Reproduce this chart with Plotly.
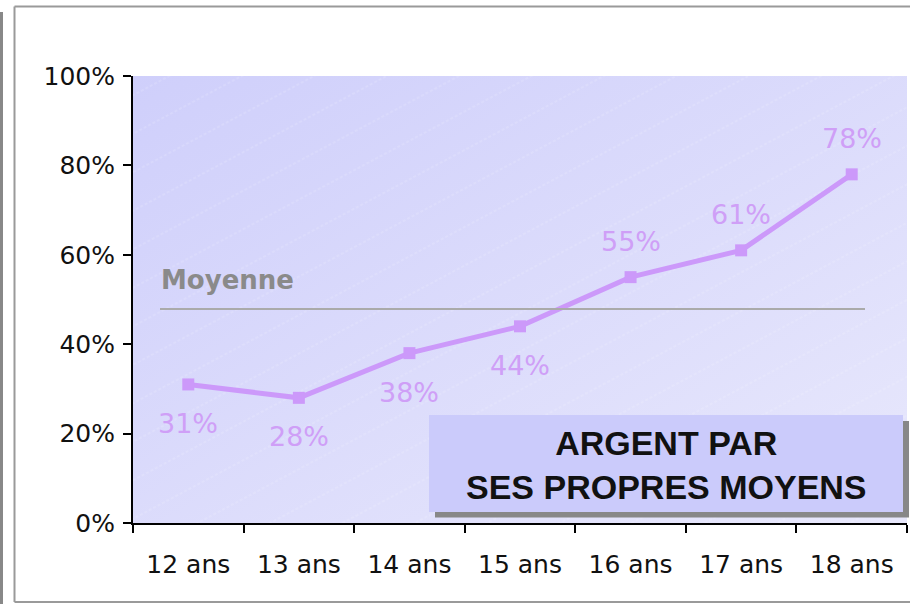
import base64
import plotly.graph_objects as go

# ---- data ----
categories = ["12 ans", "13 ans", "14 ans", "15 ans", "16 ans", "17 ans", "18 ans"]
values = [0.31, 0.28, 0.38, 0.44, 0.55, 0.61, 0.78]
y_ticks = [0, 0.2, 0.4, 0.6, 0.8, 1.0]
title_lines = ["ARGENT PAR", "SES PROPRES MOYENS"]
avg_label = "Moyenne"

mean_value = sum(values) / len(values)

# ---- layout geometry (pixels) ----
FW, FH = 910, 604
L, R, T, B = 133, 3, 76, 81
W = FW - L - R
H = FH - T - B


def px(x):
    return (x - L) / W


def py(y):
    return (T + H - y) / H


FONT = "DejaVu Sans"
TITLE_FONT = "Liberation Sans"
LINE_COLOR = "#cc99fa"
LABEL_COLOR = "#cf9ff7"

# background gradient + faint hatching as an SVG image
svg = f"""<svg xmlns='http://www.w3.org/2000/svg' width='{W}' height='{H}' viewBox='0 0 {W} {H}' preserveAspectRatio='none'>
<defs>
<linearGradient id='g' x1='0' y1='0' x2='1' y2='1'>
<stop offset='0' stop-color='#cfcffb'/>
<stop offset='1' stop-color='#e8e8fc'/>
</linearGradient>
<pattern id='p' width='40' height='34' patternUnits='userSpaceOnUse' patternTransform='rotate(-28)'>
<line x1='0' y1='17' x2='40' y2='17' stroke='white' stroke-opacity='0.25' stroke-width='1' stroke-dasharray='3,2'/>
</pattern>
</defs>
<rect width='{W}' height='{H}' fill='url(#g)'/>
<rect width='{W}' height='{H}' fill='url(#p)'/>
</svg>"""
src = "data:image/svg+xml;base64," + base64.b64encode(svg.encode()).decode()

fig = go.Figure()
fig.add_trace(go.Scatter(
    x=categories, y=values, mode="lines+markers",
    line=dict(color=LINE_COLOR, width=5),
    marker=dict(symbol="square", size=12, color=LINE_COLOR),
    hoverinfo="skip", showlegend=False,
))

annotations = []
for i, (c, v) in enumerate(zip(categories, values)):
    below = i < 4
    annotations.append(dict(
        x=c, y=v, xref="x", yref="y", text=f"{round(v*100)}%",
        showarrow=False, yshift=-39 if below else 36,
        font=dict(family=FONT, size=27, color=LABEL_COLOR),
    ))

# average label
annotations.append(dict(
    x=px(159), y=mean_value, xref="paper", yref="y", text=f"<b>{avg_label}</b>",
    showarrow=False, xanchor="left", yanchor="middle", yshift=29,
    font=dict(family=FONT, size=26, color="#8a8a8a"),
))

# title box text
annotations.append(dict(
    x=px(666), y=py(465), xref="paper", yref="paper",
    text="<b>" + "<br>".join(title_lines) + "</b>",
    showarrow=False, xanchor="center", yanchor="middle",
    font=dict(family=TITLE_FONT, size=34, color="#111111"),
))

frame = dict(color="#9a9a9a", width=2)
shapes = [
    # outer frame (top, left, bottom)
    dict(type="line", xref="paper", yref="paper", x0=px(14.5), x1=px(910), y0=py(6.5), y1=py(6.5), line=frame),
    dict(type="line", xref="paper", yref="paper", x0=px(14.5), x1=px(14.5), y0=py(6.5), y1=py(602), line=frame),
    dict(type="line", xref="paper", yref="paper", x0=px(14.5), x1=px(910), y0=py(602), y1=py(602), line=frame),
    # left grey bar
    dict(type="line", xref="paper", yref="paper", x0=px(1.5), x1=px(1.5), y0=py(12), y1=py(604),
         line=dict(color="#888888", width=3)),
    # average line
    dict(type="line", xref="paper", yref="y", x0=px(160), x1=px(865), y0=mean_value, y1=mean_value,
         line=dict(color="#aaaaaa", width=2)),
    # title box shadow
    dict(type="rect", xref="paper", yref="paper", x0=px(435), x1=px(909), y0=py(517.5), y1=py(421),
         line=dict(width=0), fillcolor="#888888"),
    # title box
    dict(type="rect", xref="paper", yref="paper", x0=px(429), x1=px(903), y0=py(512), y1=py(415),
         line=dict(width=0), fillcolor="#cbcbfb"),
]

fig.update_layout(
    width=FW, height=FH,
    margin=dict(l=L, r=R, t=T, b=B),
    paper_bgcolor="white", plot_bgcolor="rgba(0,0,0,0)",
    images=[dict(source=src, xref="paper", yref="paper", x=0, y=1, sizex=1, sizey=1,
                 sizing="stretch", layer="below", xanchor="left", yanchor="top")],
    annotations=annotations, shapes=shapes,
    font=dict(family=FONT, size=25, color="#111111"),
)
fig.update_xaxes(
    type="category", range=[-0.5, 6.5], tickson="boundaries",
    ticks="outside", ticklen=8, tickwidth=2, tickcolor="black",
    showline=True, linecolor="black", linewidth=2, showgrid=False, zeroline=False,
    tickfont=dict(family=FONT, size=25, color="#111111"), fixedrange=True,
    ticklabelstandoff=18,
)
fig.update_yaxes(
    range=[0, 1], tickvals=y_ticks, tickformat=".0%",
    ticks="outside", ticklen=8, tickwidth=2, tickcolor="black",
    showline=True, linecolor="black", linewidth=2, showgrid=False, zeroline=False,
    tickfont=dict(family=FONT, size=25, color="#111111"), fixedrange=True,
    ticklabelstandoff=3,
)

fig.write_html(
    "out.html",
    post_script=("document.body.style.margin='0';"
                 "document.body.style.overflow='hidden';"
                 "document.documentElement.style.overflow='hidden';"),
    config={"displayModeBar": False},
)
